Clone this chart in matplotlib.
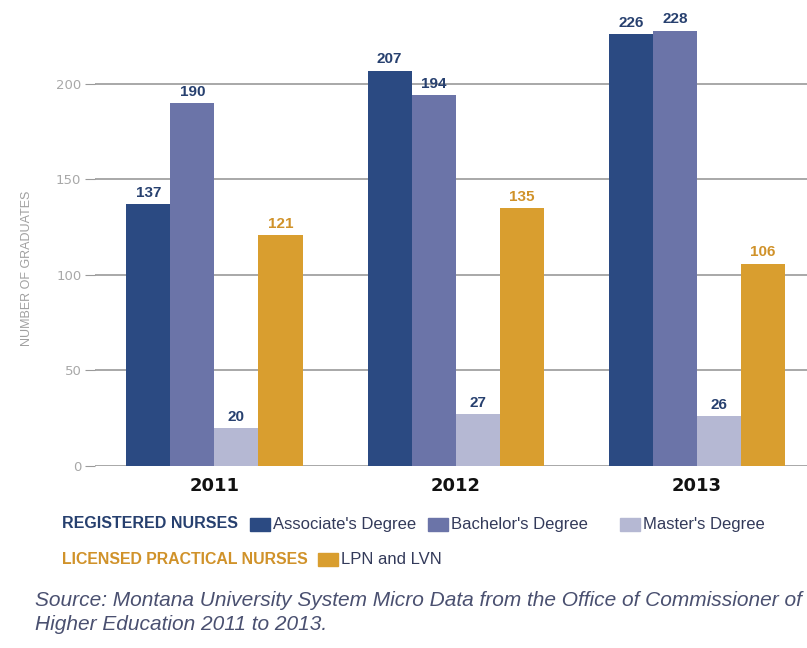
import numpy as np
import matplotlib.pyplot as plt
from matplotlib.patches import Rectangle

# Nursing graduates in Montana by degree type

years = ['2011', '2012', '2013']
associate = [137, 207, 226]
bachelor = [190, 194, 228]
master = [20, 27, 26]
lpn = [121, 135, 106]

series_names = ["Associate's Degree", "Bachelor's Degree", "Master's Degree", "LPN and LVN"]
series_vals = [associate, bachelor, master, lpn]
colors = ['#2b4a82', '#6b74a8', '#b5b8d3', '#d99e2f']
label_colors = ['#27406f', '#27406f', '#27406f', '#d0922a']

font = 'Liberation Sans'

fig = plt.figure(figsize=(8.07, 6.48), dpi=100)
ax = fig.add_axes([0.118, 0.281, 0.882, 0.719])

x = np.arange(len(years))
w = 0.1826
for i, (vals, c, lc) in enumerate(zip(series_vals, colors, label_colors)):
    bars = ax.bar(x + (i - 1.5) * w, vals, width=w, color=c, zorder=3)
    ax.bar_label(bars, padding=3, color=lc, fontsize=11, fontweight='bold',
                 family=font)

ax.set_xlim(-0.494, 2.456)
ax.set_ylim(0, 244)
ax.set_yticks([0, 50, 100, 150, 200])
ax.yaxis.grid(True, color='#9a9a9a', linewidth=1.2, zorder=0)
ax.tick_params(axis='y', length=7, color='#9a9a9a', labelcolor='#a8a8a8',
               labelsize=9.5, pad=3)
ax.set_xticks(x)
ax.set_xticklabels(years, fontsize=13, fontweight='bold', color='#111111')
ax.tick_params(axis='x', length=0, pad=8)
for s in ax.spines.values():
    s.set_visible(False)
ax.set_ylabel('NUMBER OF GRADUATES', fontsize=9, color='#a0a0a0', family=font)
ax.yaxis.set_label_coords(-0.087, 0.425)

# legend rows
fig.text(62 / 807, 1 - 524 / 648, 'REGISTERED NURSES', color='#27406f',
         fontsize=11.5, fontweight='bold', family=font, va='center')
fig.text(62 / 807, 1 - 559 / 648, 'LICENSED PRACTICAL NURSES', color='#d0922a',
         fontsize=11.4, fontweight='bold', family=font, va='center')
legend_pos = [(250, 524), (428, 524), (620, 524), (318, 559)]
for (px, py), c, name in zip(legend_pos, colors, series_names):
    fig.patches.append(Rectangle((px / 807, 1 - (py + 7) / 648), 20 / 807, 13 / 648,
                                 transform=fig.transFigure, color=c))
    fig.text((px + 23) / 807, 1 - py / 648, name, color='#333a5a',
             fontsize=12, family=font, va='center')

fig.text(35 / 807, 1 - 600 / 648,
         'Source: Montana University System Micro Data from the Office of Commissioner of',
         color='#4a5070', fontsize=15, style='italic', family=font, va='center')
fig.text(35 / 807, 1 - 624 / 648, 'Higher Education 2011 to 2013.',
         color='#4a5070', fontsize=15, style='italic', family=font, va='center')

fig.savefig('out.png', dpi=100)
